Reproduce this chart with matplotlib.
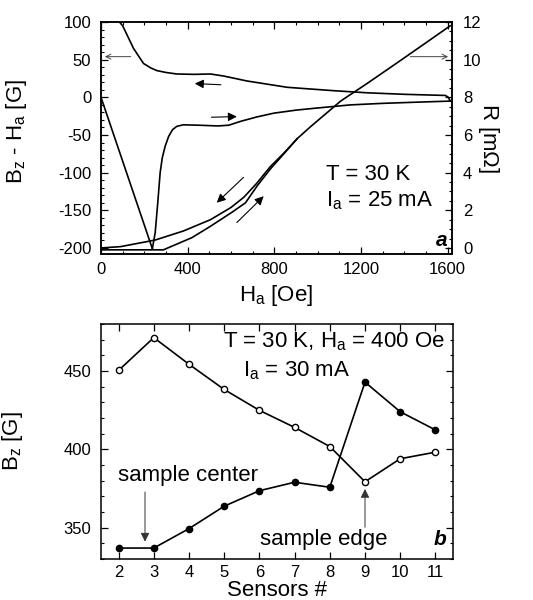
import matplotlib
matplotlib.use("Agg")
import matplotlib.pyplot as plt
from matplotlib.ticker import MultipleLocator

plt.rcParams['font.family'] = ['Liberation Sans', 'DejaVu Sans']
plt.rcParams['mathtext.fontset'] = 'custom'
plt.rcParams['mathtext.rm'] = 'Liberation Sans'
plt.rcParams['mathtext.it'] = 'Liberation Sans:italic'
plt.rcParams['mathtext.bf'] = 'Liberation Sans:bold'
plt.rcParams['axes.unicode_minus'] = False

# ---------------- Panel a data ----------------
# virgin magnetization curve (left axis, B_z - H_a in G)
virgin_H = [0, 237]
virgin_B = [0, -201]
# increasing-field branch (left axis)
inc_H = [237, 250, 262, 273, 283, 296, 312, 330, 350, 380, 450, 540, 590, 643, 720, 798, 900, 983, 1153, 1300, 1450, 1612]
inc_B = [-201, -180, -140, -100, -80, -65, -52, -43, -38.5, -36.5, -37, -38, -37, -32, -26, -21, -17, -14.6, -10, -8, -6.5, -5]
# decreasing-field branch (left axis)
dec_H = [85, 100, 150, 196, 230, 258, 300, 350, 430, 505, 566, 674, 860, 1075, 1230, 1400, 1590, 1603, 1612]
dec_B = [100, 95, 65, 45, 39, 35.5, 33, 31, 30.5, 31, 28.3, 21.7, 13.3, 8.8, 6, 4, 2.5, 0, -5]
# resistance, decreasing-field branch (right axis, mOhm)
Rdec_H = [0, 90, 250, 380, 505, 600, 660, 720, 780, 845, 905, 968, 1045, 1106, 1230, 1384, 1500, 1612]
Rdec_R = [0.0, 0.07, 0.42, 0.9, 1.5, 2.15, 2.7, 3.45, 4.3, 5.05, 5.8, 6.45, 7.2, 7.8, 8.75, 9.97, 10.9, 11.8]
# resistance, increasing-field branch (right axis, mOhm)
Rinc_H = [0, 288, 420, 505, 605, 667, 721, 782, 844, 905]
Rinc_R = [-0.1, -0.1, 0.55, 1.15, 1.9, 2.4, 3.3, 4.2, 5.0, 5.8]

# ---------------- Panel b data ----------------
sensors = [2, 3, 4, 5, 6, 7, 8, 9, 10, 11]
bz_open = [450.4, 471.3, 454.3, 438.2, 424.9, 414.0, 401.8, 379.3, 394.0, 398.2]
bz_filled = [337.0, 337.0, 349.4, 363.7, 373.6, 379.0, 375.8, 442.9, 424.0, 412.4]

fig = plt.figure(figsize=(5.33, 6.0), dpi=100)

lw = 1.2
tick_kw = dict(direction='in', labelsize=12, width=0.9)

# ---------------- Panel a ----------------
ax = fig.add_axes([0.1895, 0.5767, 0.6585, 0.3866])
ax.plot(virgin_H, virgin_B, color='black', lw=lw)
ax.plot(inc_H, inc_B, color='black', lw=lw)
ax.plot(dec_H, dec_B, color='black', lw=lw)
ax.set_xlim(0, 1620)
ax.set_ylim(-208, 100)
ax.xaxis.set_major_locator(MultipleLocator(400))
ax.xaxis.set_minor_locator(MultipleLocator(100))
ax.yaxis.set_major_locator(MultipleLocator(50))
ax.yaxis.set_minor_locator(MultipleLocator(10))
ax.tick_params(which='major', length=5, top=True, **tick_kw)
ax.tick_params(which='minor', length=2.5, top=True, direction='in', width=0.8)
ax.tick_params(axis='y', which='both', right=False)
ax.tick_params(axis='x', which='major', pad=6)
ax.tick_params(axis='y', which='major', pad=7)
ax.set_xlabel(r'H$_{\mathrm{a}}$ [Oe]', fontsize=16, labelpad=4)
ax.set_ylabel(r'B$_{\mathrm{z}}$ - H$_{\mathrm{a}}$ [G]', fontsize=16)
ax.yaxis.set_label_coords(-0.205, 0.53)

ax2 = ax.twinx()
ax2.plot(Rdec_H, Rdec_R, color='black', lw=lw)
ax2.plot(Rinc_H, Rinc_R, color='black', lw=lw)
ax2.set_ylim(-0.32, 12)
ax2.set_xlim(0, 1620)
ax2.yaxis.set_major_locator(MultipleLocator(2))
ax2.yaxis.set_minor_locator(MultipleLocator(0.5))
ax2.tick_params(which='major', length=5, pad=8, **tick_kw)
ax2.tick_params(which='minor', length=2.5, direction='in', width=0.8)
ax2.set_ylabel(r'R [m$\Omega$]', fontsize=16, rotation=270, labelpad=20)
ax2.yaxis.set_label_coords(1.14, 0.5)

for a in (ax, ax2):
    for s in a.spines.values():
        s.set_linewidth(1.1)

thin = dict(arrowstyle='->', lw=0.7, color='#444444', mutation_scale=9)
ax.annotate('', xy=(5, 54), xytext=(150, 54), arrowprops=thin)
ax.annotate('', xy=(1615, 54), xytext=(1415, 54), arrowprops=thin)
head = dict(arrowstyle='-|>', lw=0.8, color='black', mutation_scale=13)
ax.annotate('', xy=(420, 18.5), xytext=(566, 16.5), arrowprops=head)
ax.annotate('', xy=(640, -25.5), xytext=(497, -26.5), arrowprops=head)
ax2.annotate('', xy=(525, 2.3), xytext=(667, 3.85), arrowprops=head)
ax2.annotate('', xy=(760, 2.85), xytext=(618, 1.25), arrowprops=head)

ax.text(1037, -103, 'T = 30 K', fontsize=16, va='center', ha='left')
ax.text(1037, -137, r'I$_{\mathrm{a}}$ = 25 mA', fontsize=16, va='center', ha='left')
ax.text(1572, -190, 'a', fontsize=15, fontweight='bold', fontstyle='italic', ha='center', va='center')

# ---------------- Panel b ----------------
bx = fig.add_axes([0.1895, 0.0683, 0.6604, 0.3917])
bx.plot(sensors, bz_open, color='black', lw=lw, marker='o', markersize=4.5,
        markerfacecolor='white', markeredgecolor='black', markeredgewidth=1.0)
bx.plot(sensors, bz_filled, color='black', lw=lw, marker='o', markersize=4.5,
        markerfacecolor='black', markeredgecolor='black')
bx.set_xlim(1.5, 11.5)
bx.set_ylim(330, 480)
bx.set_xticks(sensors)
bx.yaxis.set_major_locator(MultipleLocator(50))
bx.yaxis.set_minor_locator(MultipleLocator(10))
bx.tick_params(which='major', length=5, top=True, right=True, **tick_kw)
bx.tick_params(which='minor', length=2.5, right=True, direction='in', width=0.8)
bx.tick_params(axis='x', which='major', pad=4.5)
bx.tick_params(axis='y', which='major', pad=7)
for s in bx.spines.values():
    s.set_linewidth(1.1)
bx.set_xlabel('Sensors #', fontsize=16, labelpad=0)
bx.set_ylabel(r'B$_{\mathrm{z}}$ [G]', fontsize=16)
bx.yaxis.set_label_coords(-0.215, 0.5)

bx.text(11.27, 469, r'T = 30 K, H$_{\mathrm{a}}$ = 400 Oe', fontsize=16, ha='right', va='center')
bx.text(7.07, 450, r'I$_{\mathrm{a}}$ = 30 mA', fontsize=16, ha='center', va='center')
bx.text(1.98, 383.5, 'sample center', fontsize=16, ha='left', va='center')
bx.text(7.82, 342.5, 'sample edge', fontsize=16, ha='center', va='center')
bx.text(11.12, 342.5, 'b', fontsize=15, fontweight='bold', fontstyle='italic', ha='center', va='center')
arr = dict(arrowstyle='-|>', lw=0.7, color='#333333', mutation_scale=13)
bx.annotate('', xy=(2.75, 339.3), xytext=(2.75, 374.5), arrowprops=arr)
bx.annotate('', xy=(9.0, 376.5), xytext=(9.0, 348.5), arrowprops=arr)

fig.savefig('out.png', dpi=100)
